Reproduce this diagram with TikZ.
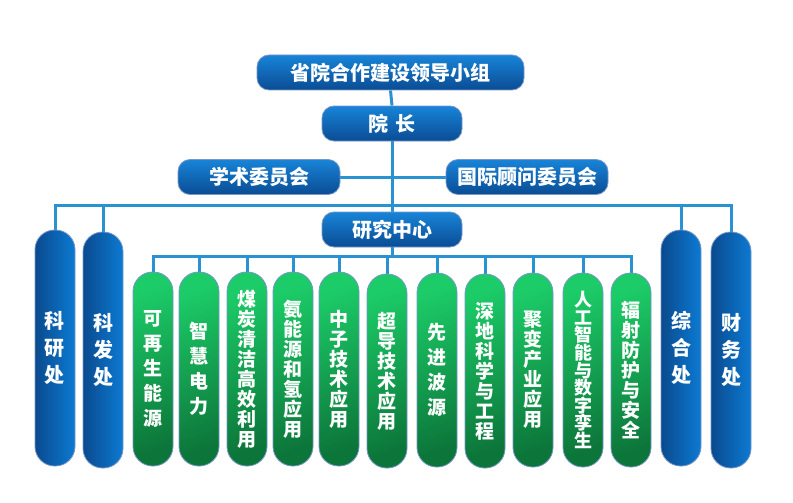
\documentclass[tikz,border=0pt]{standalone}
\usepackage{fontspec}
\usetikzlibrary{backgrounds}
\newfontfamily\cjk{Noto Sans CJK SC}[BoldFont={Noto Sans CJK SC Black}]
\definecolor{blueT}{RGB}{24,132,216}
\definecolor{blueB}{RGB}{10,76,148}
\definecolor{blueD}{RGB}{10,74,142}
\definecolor{blueL}{RGB}{12,122,210}
\definecolor{greenL}{RGB}{28,204,104}
\definecolor{greenD}{RGB}{12,118,58}
\definecolor{edgec}{RGB}{120,150,200}
\definecolor{linec}{RGB}{40,146,210}
\begin{document}
\begin{tikzpicture}[x=1pt,y=-1pt,
  bluebox/.style={rounded corners=12pt, draw=edgec, line width=0.8pt,
    top color=blueT, bottom color=blueB, text=white,
    font=\cjk\bfseries\fontsize{20}{22}\selectfont,
    minimum height=35pt, inner sep=0pt},
  tallblue/.style={rounded corners=19.5pt, draw=edgec, line width=0.8pt,
    left color=blueD, right color=blueL, text=white,
    minimum width=40pt, minimum height=236pt, inner sep=0pt, align=center,
    font=\cjk\bfseries\fontsize{20}{27}\selectfont},
  greenpill/.style={rounded corners=19.5pt, draw=edgec, line width=0.8pt,
    top color=greenL, bottom color=greenD, shading angle=20, text=white,
    minimum width=40pt, minimum height=194pt, inner sep=0pt, align=center,
    font=\cjk\bfseries\fontsize{19}{20}\selectfont},
  spread/.style={font=\cjk\bfseries\fontsize{19}{25}\selectfont},
  tight/.style={font=\cjk\bfseries\fontsize{18}{17.6}\selectfont},
  link/.style={draw=linec, line width=3pt}]
\useasboundingbox (0,0) rectangle (793,503);

\coordinate (busy) at (0,205);
\coordinate (gbus) at (0,256);

\node[bluebox, minimum width=267pt] (top) at (390.5,72.5) {省院合作建设领导小组};
\node[bluebox, minimum width=140pt] (yz) at (392,123.5) {院\hspace{0.4em}长};
\node[bluebox, minimum width=162pt] (xs) at (259,177) {学术委员会};
\node[bluebox, minimum width=162pt] (gj) at (527,177) {国际顾问委员会};
\node[bluebox, minimum width=140pt] (yj) at (392,229.5) {研究中心};

\node[tallblue] (ky) at (55,348) {科\\研\\处};
\node[tallblue] (kf) at (103,350) {科\\发\\处};
\node[tallblue] (zh) at (681,348) {综\\合\\处};
\node[tallblue] (cw) at (731,350) {财\\务\\处};

\node[greenpill, spread] (g1) at (153,369) {可\\再\\生\\能\\源};
\node[greenpill, spread] (g2) at (199,369) {智\\慧\\电\\力};
\node[greenpill] (g3) at (247,369) {煤\\炭\\清\\洁\\高\\效\\利\\用};
\node[greenpill] (g4) at (293,369) {氨\\能\\源\\和\\氢\\应\\用};
\node[greenpill] (g5) at (339,369) {中\\子\\技\\术\\应\\用};
\node[greenpill] (g6) at (387,371) {超\\导\\技\\术\\应\\用};
\node[greenpill, spread] (g7) at (437,370) {先\\进\\波\\源};
\node[greenpill] (g8) at (485,371) {深\\地\\科\\学\\与\\工\\程};
\node[greenpill] (g9) at (533,370) {聚\\变\\产\\业\\应\\用};
\node[greenpill, tight] (g10) at (583,370) {人\\工\\智\\能\\与\\数\\字\\孪\\生};
\node[greenpill] (g11) at (631,370) {辐\\射\\防\\护\\与\\安\\全};

\begin{scope}[on background layer]
\draw[link] (top.south) -- (yz.north);
\draw[link] (yz.south) -- (yj.north);
\draw[link] (xs.east) -- (gj.west);
\draw[link] (ky.north) -- (ky.north |- busy) -- (cw.north |- busy) -- (cw.north);
\draw[link] (kf.north) -- (kf.north |- busy);
\draw[link] (zh.north) -- (zh.north |- busy);
\draw[link] (yj.south) -- (yj.south |- gbus);
\draw[link] (g1.north) -- (g1.north |- gbus) -- (g11.north |- gbus) -- (g11.north);
\foreach \n in {g2,g3,g4,g5,g6,g7,g8,g9,g10}
  \draw[link] (\n.north) -- (\n.north |- gbus);
\end{scope}
\end{tikzpicture}
\end{document}
